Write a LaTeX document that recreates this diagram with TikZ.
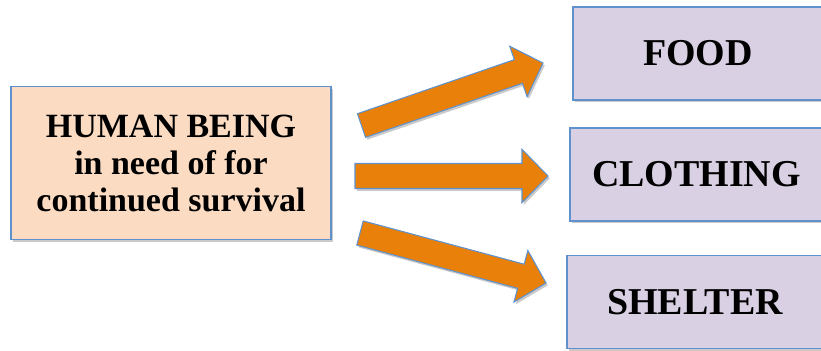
\documentclass[tikz,border=0pt]{standalone}
\usepackage{xcolor}
\usepackage{fontspec}
\setmainfont{Liberation Serif}
\usetikzlibrary{arrows.meta, positioning, calc, shadows}

\definecolor{edgeblue}{HTML}{5F92CC}
\definecolor{peach}{HTML}{FBDCC3}
\definecolor{lavender}{HTML}{D9D0E3}
\definecolor{pushorange}{HTML}{E98009}

\begin{document}
\begin{tikzpicture}[x=0.03cm, y=-0.03cm,
    softshadow/.style={drop shadow={shadow xshift=1.5pt, shadow yshift=-2pt, opacity=0.35, fill=black!60}},
    humanbox/.style={rectangle, draw=edgeblue, line width=1.2pt, fill=peach, softshadow,
        minimum width=9.6cm, minimum height=4.6cm, align=center,
        font=\fontsize{29pt}{31.6pt}\selectfont\bfseries},
    needbox/.style={rectangle, draw=edgeblue, line width=1.2pt, fill=lavender, softshadow,
        minimum height=2.78cm, inner sep=0pt, font=\fontsize{32.4pt}{36pt}\selectfont\bfseries},
    push/.style={draw=edgeblue, line width=0.9pt, fill=pushorange, line join=miter, softshadow}]
    \useasboundingbox (0,0) rectangle (821,350);

    % boxes
    \node[humanbox] (human) at (171,163) {HUMAN BEING\\in need of for\\continued survival};
    \node[needbox, minimum width=7.5cm] (food) at (698,53.5) {FOOD};
    \node[needbox, minimum width=7.59cm] (clothing) at (696.5,174.5) {CLOTHING};
    \node[needbox, minimum width=7.68cm] (shelter) at (695,302) {SHELTER};

    % arrow ends
    \coordinate (t1) at (361.5,125.5);
    \coordinate (h1) at (543,63);
    \coordinate (t2) at (355,176);
    \coordinate (h2) at (548,176);
    \coordinate (t3) at (360,233);
    \coordinate (h3) at (546,283);

    \foreach \s/\t in {t1/h1, t2/h2, t3/h3} {
        \coordinate (hb) at ($(\t)!0.78cm!(\s)$);
        \draw[push] ($(\s)!0.375cm!90:(\t)$) -- ($(hb)!0.375cm!-90:(\s)$)
            -- ($(hb)!0.8cm!-90:(\s)$) -- (\t) -- ($(hb)!0.8cm!90:(\s)$)
            -- ($(hb)!0.375cm!90:(\s)$) -- ($(\s)!0.375cm!-90:(\t)$) -- cycle;
    }
\end{tikzpicture}
\end{document}
